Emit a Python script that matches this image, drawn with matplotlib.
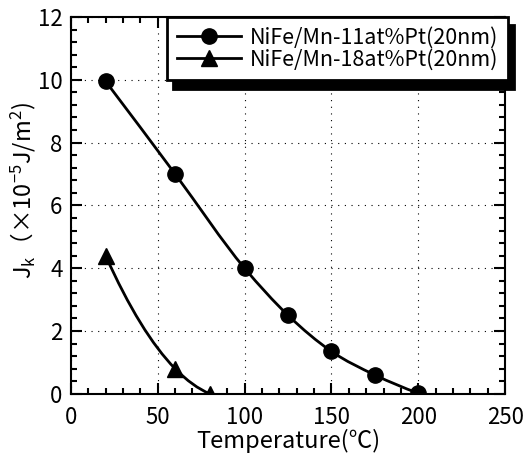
import numpy as np
import matplotlib
matplotlib.use("Agg")
import matplotlib.pyplot as plt
from matplotlib.path import Path
from matplotlib.patches import PathPatch
from matplotlib.ticker import MultipleLocator

plt.rcParams['font.family'] = ['Noto Sans CJK JP', 'DejaVu Sans']
plt.rcParams['mathtext.fontset'] = 'custom'
plt.rcParams['mathtext.rm'] = 'Noto Sans CJK JP'
plt.rcParams['mathtext.it'] = 'Noto Sans CJK JP'

# data
t_11 = [20, 60, 100, 125, 150, 175, 200]
jk_11 = [9.95, 7.0, 4.0, 2.5, 1.35, 0.6, 0.02]
t_18 = [20, 60, 80]
jk_18 = [4.4, 0.8, 0.0]

label_11 = "NiFe/Mn-11at%Pt(20nm)"
label_18 = "NiFe/Mn-18at%Pt(20nm)"


def smooth_path(x, y):
    # cubic hermite segments through the points, drawn as bezier curves
    x = np.asarray(x, float)
    y = np.asarray(y, float)
    m = np.gradient(y, x, edge_order=2)
    verts = [(x[0], y[0])]
    codes = [Path.MOVETO]
    for i in range(len(x) - 1):
        h = x[i + 1] - x[i]
        verts += [(x[i] + h / 3, y[i] + m[i] * h / 3),
                  (x[i + 1] - h / 3, y[i + 1] - m[i + 1] * h / 3),
                  (x[i + 1], y[i + 1])]
        codes += [Path.CURVE4] * 3
    return Path(verts, codes)


fig = plt.figure(figsize=(5.29, 4.59), dpi=100)
ax = fig.add_axes([0.134, 0.142, 0.821, 0.821])

for t, jk in [(t_11, jk_11), (t_18, jk_18)]:
    ax.add_patch(PathPatch(smooth_path(t, jk), fill=False, ec='black', lw=2))

ax.plot(t_11, jk_11, 'o', color='black', ms=11)
ax.plot(t_18, jk_18, '^', color='black', ms=11.5)

# legend handles: line + marker
h1, = ax.plot([], [], '-o', color='black', lw=2, ms=11)
h2, = ax.plot([], [], '-^', color='black', lw=2, ms=11.5)
leg = ax.legend([h1, h2], [label_11, label_18], loc='upper right',
                bbox_to_anchor=(1.007, 1.0), borderaxespad=0, fontsize=15.5,
                handlelength=3.0, handletextpad=0.4, labelspacing=0.0,
                borderpad=0.45, fancybox=False, framealpha=1, edgecolor='black',
                shadow={'color': 'black', 'alpha': 1, 'ox': 4, 'oy': -6})
leg.get_frame().set_linewidth(2)

ax.set_xlim(0, 250)
ax.set_ylim(0, 12)
ax.xaxis.set_major_locator(MultipleLocator(50))
ax.xaxis.set_minor_locator(MultipleLocator(10))
ax.yaxis.set_major_locator(MultipleLocator(2))
ax.yaxis.set_minor_locator(MultipleLocator(0.4))
ax.tick_params(which='both', direction='in', top=True, right=True, width=1.5)
ax.tick_params(which='major', length=8, labelsize=16)
ax.tick_params(axis='x', which='major', pad=9)
ax.tick_params(axis='y', which='major', pad=6)
ax.tick_params(which='minor', length=4)
for s in ax.spines.values():
    s.set_linewidth(1.5)
ax.grid(True, which='major', linestyle=(0, (1, 5)), color='black', lw=0.8)

ax.set_xlabel("Temperature(℃)", fontsize=17, labelpad=0)
ax.set_ylabel(r"J$_\mathrm{k}$（×10$^\mathrm{-5}$J/m$^\mathrm{2}$)", fontsize=17)
ax.yaxis.set_label_coords(-0.075, 0.54)

fig.savefig("out.png", dpi=100)
